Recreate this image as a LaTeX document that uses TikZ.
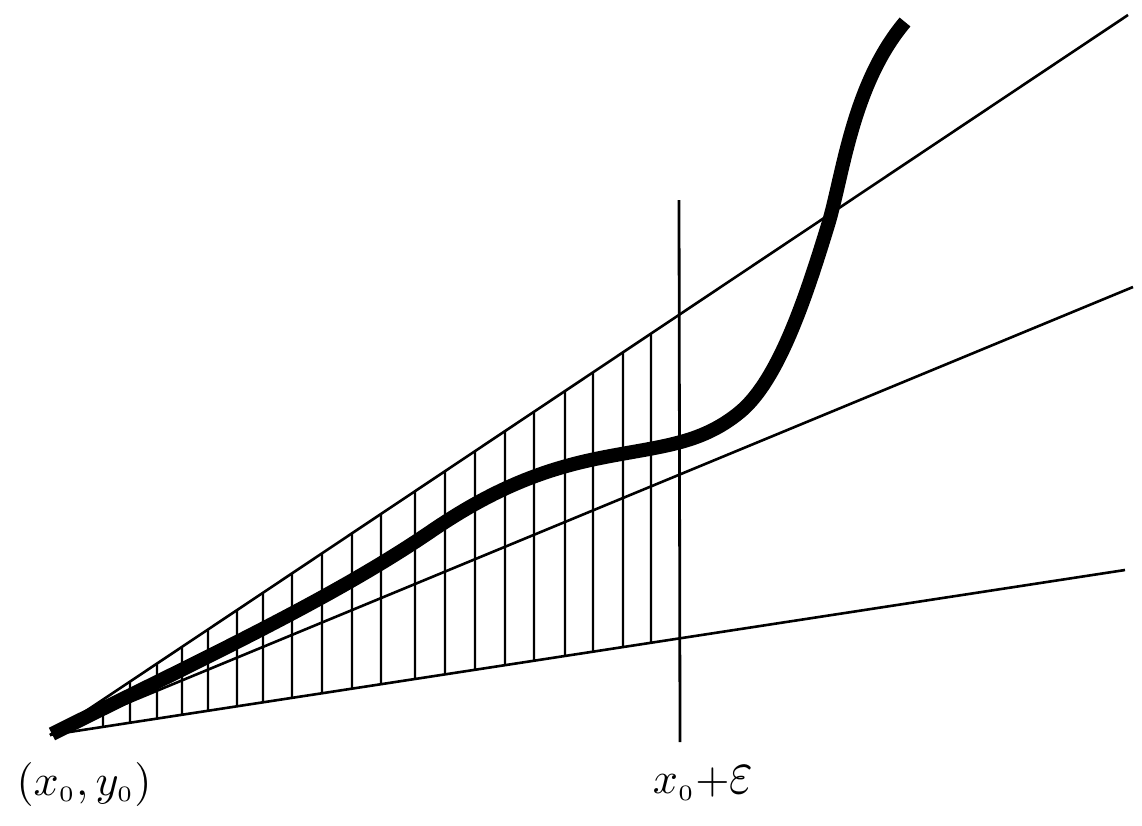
\documentclass[tikz,border=0pt]{standalone}
\usepackage{graphicx}
\usetikzlibrary{calc}
\begin{document}
\begin{tikzpicture}[x=1pt,y=-1pt,
  rayline/.style={line width=2.6pt, black},
  hatchline/.style={line width=2.3pt, black},
  curveline/.style={line width=14pt, black, line cap=butt, line join=round},
  lbl/.style={inner sep=0pt}]
\useasboundingbox (0,0) rectangle (1142,825);
\fill[white] (0,0) rectangle (1142,825);
% origin and line ends
\coordinate (O) at (50,735);
\coordinate (T) at (1128,15);
\coordinate (M) at (1133,287);
\coordinate (B) at (1125,570);
\coordinate (Vt) at (679,200);
\coordinate (Vb) at (680,742);
% hatching between top and bottom rays
\foreach \hx in {103,130,157,182,208,237,263,292,322,352,381,415,445,475,505,534,565,593,623,651} {
  \draw[hatchline] ($(O)!{(\hx-50)/1078}!(T)$) -- ($(O)!{(\hx-50)/1075}!(B)$);
}
% rays
\draw[rayline] (O) -- (T);
\draw[rayline] (O) -- (M);
\draw[rayline] (O) -- (B);
% vertical line
\draw[line width=2.8pt] (Vt) -- (Vb);
% thick curve
\draw[curveline] (52,734) .. controls (200,660) and (330,600) .. (430,532)
  .. controls (490,491) and (540,470) .. (600,458)
  .. controls (660,446) and (700,445) .. (740,412)
  .. controls (780,379) and (808,290) .. (828,225)
  .. controls (843,176) and (852,85) .. (905,22);
% labels
\node[lbl] (p0) at (84,784) {\scalebox{4.4}{$(x_{\scriptscriptstyle 0},y_{\scriptscriptstyle 0})$}};
\node[lbl] (xe) at (703,783) {\scalebox{4.4}{$x_{\scriptscriptstyle 0}{+}\scalebox{1.15}[1.45]{$\varepsilon$}$}};
\end{tikzpicture}
\end{document}
